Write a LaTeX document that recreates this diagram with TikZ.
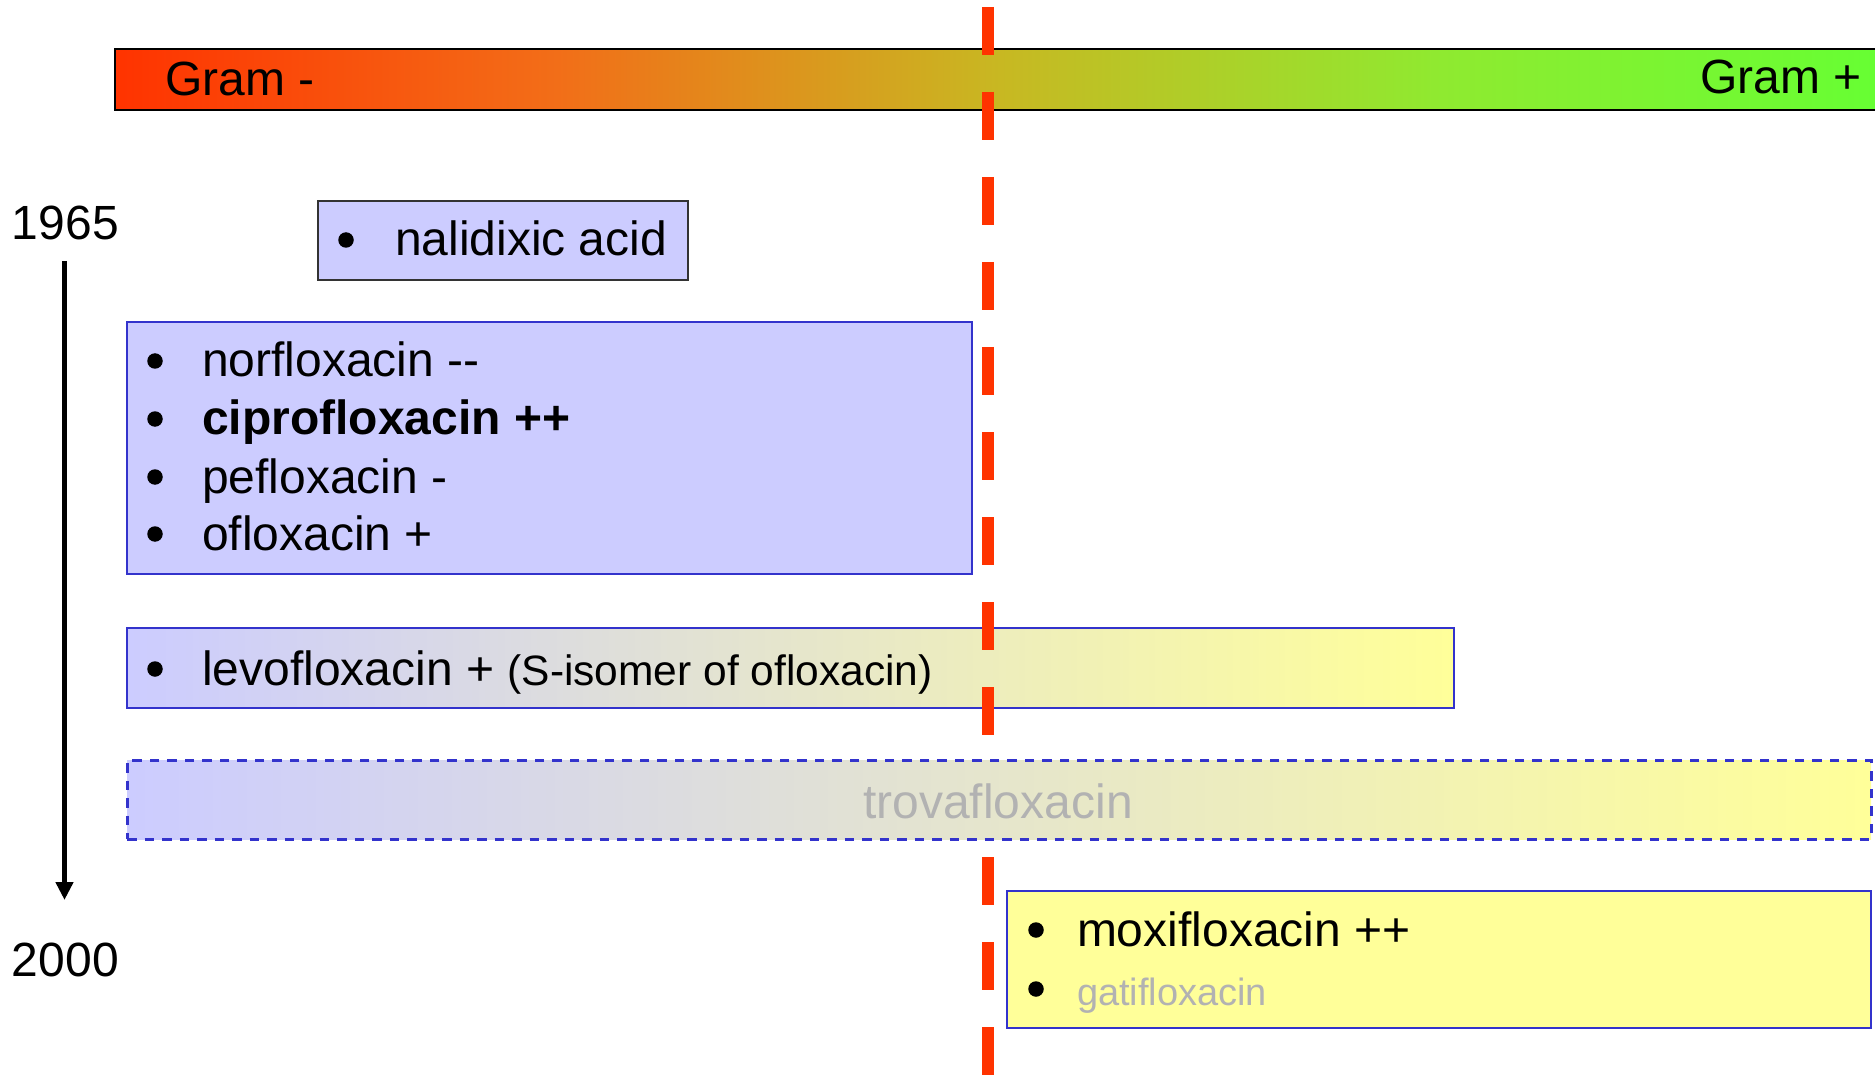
\documentclass[tikz,border=0pt]{standalone}
\usepackage{fontspec}
\setmainfont{Liberation Sans}
\usetikzlibrary{arrows.meta,shadings}

\definecolor{lav}{HTML}{CCCCFF}
\definecolor{pale}{HTML}{FFFF99}
\definecolor{edge}{HTML}{3333CC}
\definecolor{marker}{HTML}{FF3300}
\definecolor{faded}{HTML}{B2B2B2}
\definecolor{gs0}{HTML}{FF3300}
\definecolor{gs1}{HTML}{F26E18}
\definecolor{gs2}{HTML}{C8B822}
\definecolor{gs3}{HTML}{8FEA30}
\definecolor{gs4}{HTML}{66FF33}

% red-to-green spectrum; the path is fitted to the 25bp..75bp band
\pgfdeclarehorizontalshading{gramscale}{100bp}{color(0bp)=(gs0); color(25bp)=(gs0);
  color(37.5bp)=(gs1); color(50bp)=(gs2); color(62.5bp)=(gs3); color(75bp)=(gs4); color(100bp)=(gs4)}

\begin{document}
\begin{tikzpicture}[x=1pt,y=-1pt,
  every node/.style={inner sep=0pt, outer sep=0pt},
  big/.style={font=\fontsize{48}{58}\selectfont},
  box/.style={draw=edge, line width=2.5pt, anchor=north west, inner sep=0pt},
  dot/.style={circle, fill=black, minimum size=15.5pt},
  item/.style={big, anchor=base west},
  divider/.style={draw=marker, line width=12pt, dash pattern=on 48pt off 37pt},
]
\useasboundingbox (0,0) rectangle (1875,1075);

% spectrum bar
\node[draw=black, line width=2pt, anchor=north west, minimum width=1770pt, minimum height=61pt,
      shading=gramscale] (bar) at (115,49) {};
\node[big, anchor=base west] (gneglbl) at (165,96) {Gram -};
\node[big, anchor=base east] (gposlbl) at (1862,94) {Gram +};

% time axis
\node[big, anchor=base west] (y1965) at (12,240) {1965};
\node[big, anchor=base west] (y2000) at (12,976) {2000};
\coordinate (axtop) at (64.5,261);
\coordinate (axbot) at (64.5,900);
\draw[line width=5.5pt, -{Triangle[length=18pt,width=17pt]}] (axtop) -- (axbot);

% first generation
\node[box, draw=black!80, fill=lav, minimum width=370pt, minimum height=79pt] (nal) at (318,201) {};
\node[dot] (nalb) at (346,240) {};
\node[item] (nalt) at (395,256) {nalidixic acid};

% second generation
\node[box, fill=lav, minimum width=845pt, minimum height=252pt] (nor) at (127,322) {};
\node[dot] (norb1) at (155,361) {};
\node[item] (nort1) at (202,377) {norfloxacin -{}-};
\node[dot] (norb2) at (155,419) {};
\node[item] (nort2) at (202,435) {\bfseries ciprofloxacin ++};
\node[dot] (norb3) at (155,477) {};
\node[item] (nort3) at (202,493) {pefloxacin -};
\node[dot] (norb4) at (155,534) {};
\node[item] (nort4) at (202,550) {ofloxacin +};

% levofloxacin
\node[box, left color=lav, right color=pale, minimum width=1327pt, minimum height=80pt] (levo) at (127,628) {};
\node[dot] (levob) at (155,669) {};
\node[item] (levot) at (202,685) {levofloxacin + {\fontsize{42.5}{50}\selectfont(S-isomer of ofloxacin)}};

% Gram boundary marker
\coordinate (marktop) at (988,7);
\coordinate (markbot) at (988,1075);
\draw[divider] (marktop) -- (markbot);

% trovafloxacin (withdrawn)
\node[box, line width=3pt, dash pattern=on 9.5pt off 8pt, left color=lav, right color=pale,
      minimum width=1744pt, minimum height=79pt] (trova) at (127,760) {};
\node[big, anchor=base, text=faded] (trovat) at (998,818) {trovafloxacin};

% newer agents
\node[box, fill=pale, minimum width=864pt, minimum height=137pt] (moxi) at (1007,891) {};
\node[dot] (moxib1) at (1036,930) {};
\node[item] (moxit1) at (1077,946) {moxifloxacin ++};
\node[dot] (moxib2) at (1036,989) {};
\node[item, font=\fontsize{38}{46}\selectfont, text=faded] (moxit2) at (1077,1005) {gatifloxacin};
\end{tikzpicture}
\end{document}
